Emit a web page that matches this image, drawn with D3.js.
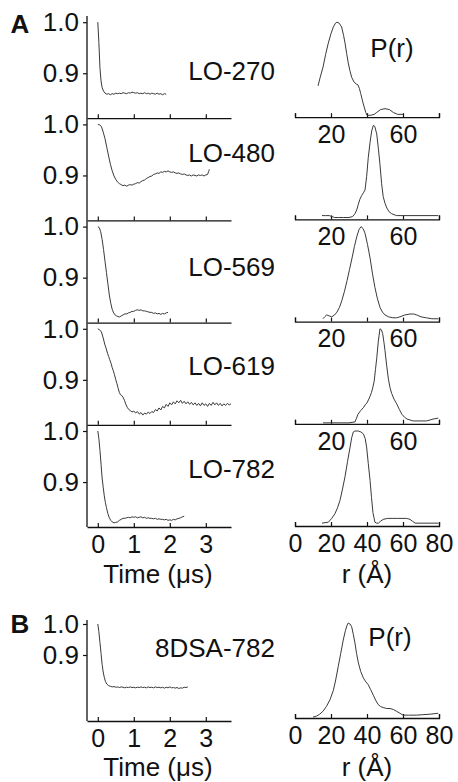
<!DOCTYPE html>
<html>
<head>
<meta charset="utf-8">
<script src="https://cdn.jsdelivr.net/npm/d3@7"></script>
<style>
body { margin: 0; background: #fff; }
svg text { font-family: "Liberation Sans", Arial, sans-serif; fill: #111; }
</style>
</head>
<body>
<svg id="chart" width="458" height="782"></svg>
<script>
// panel names
const panelNames = ['LO-270', 'LO-480', 'LO-569', 'LO-619', 'LO-782']
const panelNameB = '8DSA-782'

// tick values
const timeTicks = [0, 1, 2, 3]
const rTicks = [0, 20, 40, 60, 80]
const yTicks = [0.9, 1.0]

// time decays [time (us), signal]
const lo270 = [[0,1.0],[0.03,0.96],[0.06,0.91],[0.09,0.885],[0.12,0.872],[0.16,0.865],[0.2,0.861],[0.25,0.859],[0.3,0.860],[0.35,0.858],[0.4,0.860],[0.45,0.859],[0.5,0.861],[0.55,0.860],[0.6,0.861],[0.65,0.860],[0.7,0.862],[0.75,0.861],[0.8,0.860],[0.85,0.862],[0.9,0.861],[0.95,0.863],[1.0,0.862],[1.05,0.861],[1.1,0.862],[1.15,0.860],[1.2,0.861],[1.25,0.860],[1.3,0.862],[1.35,0.860],[1.4,0.861],[1.45,0.859],[1.5,0.861],[1.55,0.860],[1.6,0.859],[1.65,0.861],[1.7,0.859],[1.75,0.860],[1.8,0.858],[1.85,0.860],[1.9,0.859]]
const lo480 = [[0,1.0],[0.05,0.999],[0.1,0.996],[0.15,0.985],[0.2,0.972],[0.25,0.955],[0.3,0.938],[0.35,0.922],[0.4,0.909],[0.45,0.899],[0.5,0.892],[0.55,0.887],[0.6,0.884],[0.65,0.882],[0.7,0.880],[0.75,0.881],[0.8,0.879],[0.85,0.881],[0.9,0.882],[0.95,0.881],[1.0,0.883],[1.05,0.884],[1.1,0.886],[1.15,0.885],[1.2,0.888],[1.25,0.890],[1.3,0.891],[1.35,0.894],[1.4,0.896],[1.45,0.898],[1.5,0.899],[1.55,0.902],[1.6,0.903],[1.65,0.905],[1.7,0.904],[1.75,0.907],[1.8,0.906],[1.85,0.908],[1.9,0.907],[1.95,0.909],[2.0,0.907],[2.05,0.906],[2.1,0.907],[2.15,0.905],[2.2,0.904],[2.25,0.905],[2.3,0.903],[2.35,0.902],[2.4,0.903],[2.45,0.901],[2.5,0.900],[2.55,0.901],[2.6,0.899],[2.65,0.901],[2.7,0.900],[2.75,0.899],[2.8,0.901],[2.85,0.900],[2.9,0.901],[2.95,0.899],[3.0,0.901],[3.05,0.902],[3.08,0.908],[3.1,0.912]]
const lo569 = [[0,1.0],[0.04,0.998],[0.08,0.99],[0.12,0.975],[0.16,0.955],[0.2,0.932],[0.24,0.91],[0.28,0.888],[0.32,0.866],[0.36,0.850],[0.4,0.838],[0.44,0.831],[0.48,0.827],[0.52,0.825],[0.56,0.824],[0.6,0.823],[0.65,0.825],[0.7,0.827],[0.75,0.829],[0.8,0.829],[0.85,0.831],[0.9,0.832],[0.95,0.834],[1.0,0.834],[1.05,0.836],[1.1,0.837],[1.15,0.836],[1.2,0.837],[1.25,0.835],[1.3,0.835],[1.35,0.834],[1.4,0.833],[1.45,0.832],[1.5,0.832],[1.55,0.830],[1.6,0.831],[1.65,0.829],[1.7,0.830],[1.75,0.828],[1.8,0.830],[1.85,0.829],[1.9,0.831],[1.95,0.832]]
const lo619 = [[0,1.0],[0.05,0.998],[0.1,0.994],[0.15,0.982],[0.2,0.968],[0.23,0.962],[0.27,0.952],[0.3,0.946],[0.33,0.940],[0.37,0.932],[0.4,0.924],[0.43,0.918],[0.46,0.911],[0.5,0.900],[0.53,0.893],[0.56,0.885],[0.6,0.875],[0.63,0.871],[0.67,0.869],[0.7,0.866],[0.74,0.860],[0.78,0.852],[0.82,0.846],[0.86,0.842],[0.9,0.840],[0.95,0.837],[1.0,0.839],[1.05,0.835],[1.1,0.838],[1.15,0.833],[1.2,0.836],[1.25,0.831],[1.3,0.835],[1.35,0.833],[1.4,0.837],[1.45,0.834],[1.5,0.838],[1.55,0.836],[1.6,0.842],[1.65,0.839],[1.7,0.845],[1.75,0.841],[1.8,0.848],[1.85,0.845],[1.9,0.852],[1.95,0.848],[2.0,0.855],[2.05,0.851],[2.1,0.857],[2.15,0.853],[2.2,0.859],[2.25,0.855],[2.3,0.860],[2.35,0.854],[2.4,0.858],[2.45,0.853],[2.5,0.857],[2.55,0.852],[2.6,0.856],[2.65,0.851],[2.7,0.855],[2.75,0.850],[2.8,0.854],[2.85,0.849],[2.9,0.855],[2.95,0.850],[3.0,0.853],[3.05,0.848],[3.1,0.854],[3.15,0.850],[3.2,0.856],[3.25,0.851],[3.3,0.855],[3.35,0.850],[3.4,0.854],[3.45,0.849],[3.5,0.853],[3.55,0.850],[3.6,0.854],[3.65,0.851],[3.7,0.853]]
const lo782 = [[0,1.0],[0.03,0.985],[0.06,0.962],[0.09,0.935],[0.12,0.908],[0.15,0.890],[0.18,0.873],[0.21,0.860],[0.24,0.850],[0.28,0.838],[0.32,0.830],[0.36,0.825],[0.4,0.822],[0.45,0.820],[0.5,0.821],[0.55,0.822],[0.6,0.825],[0.65,0.827],[0.7,0.829],[0.75,0.829],[0.8,0.830],[0.85,0.831],[0.9,0.830],[0.95,0.832],[1.0,0.831],[1.05,0.832],[1.1,0.830],[1.15,0.831],[1.2,0.832],[1.25,0.830],[1.3,0.831],[1.35,0.829],[1.4,0.830],[1.45,0.829],[1.5,0.829],[1.55,0.828],[1.6,0.829],[1.65,0.827],[1.7,0.828],[1.75,0.827],[1.8,0.827],[1.85,0.826],[1.9,0.827],[1.95,0.825],[2.0,0.826],[2.05,0.825],[2.1,0.827],[2.15,0.826],[2.2,0.828],[2.25,0.829],[2.3,0.830],[2.35,0.832],[2.4,0.833]]
const dsa782 = [[0,1.0],[0.03,0.975],[0.06,0.94],[0.09,0.905],[0.12,0.87],[0.15,0.845],[0.18,0.828],[0.21,0.815],[0.25,0.806],[0.3,0.801],[0.35,0.799],[0.4,0.797],[0.45,0.798],[0.5,0.796],[0.55,0.797],[0.6,0.795],[0.65,0.797],[0.7,0.796],[0.75,0.794],[0.8,0.796],[0.85,0.795],[0.9,0.797],[0.95,0.795],[1.0,0.796],[1.05,0.794],[1.1,0.796],[1.15,0.795],[1.2,0.797],[1.25,0.795],[1.3,0.796],[1.35,0.794],[1.4,0.797],[1.45,0.795],[1.5,0.796],[1.55,0.794],[1.6,0.797],[1.65,0.795],[1.7,0.796],[1.75,0.794],[1.8,0.796],[1.85,0.793],[1.9,0.796],[1.95,0.794],[2.0,0.797],[2.05,0.794],[2.1,0.795],[2.15,0.793],[2.2,0.795],[2.25,0.792],[2.3,0.794],[2.35,0.793],[2.4,0.796],[2.45,0.795],[2.5,0.797]]

// distance distributions [r (A), P(r) normalised]
const pr270 = [[12.8,0.33],[14,0.42],[15.6,0.53],[17,0.66],[18.5,0.78],[20,0.88],[21.3,0.95],[22.5,0.99],[23.3,1.0],[24.5,0.99],[25.9,0.95],[27,0.86],[27.8,0.78],[28.7,0.67],[29.6,0.57],[30.5,0.49],[31.5,0.42],[32.8,0.37],[34,0.35],[35,0.34],[35.8,0.30],[36.5,0.25],[37.8,0.15],[39.3,0.05],[40,0.02],[42,0.02],[44,0.03],[45.4,0.05],[47.5,0.08],[50,0.09],[52.5,0.08],[54.6,0.05],[57,0.03],[60,0.03]]
const pr480 = [[15,0.04],[17,0.04],[19,0.04],[20.5,0.03],[22,0.02],[24,0.02],[27,0.02],[30,0.02],[32,0.03],[33.3,0.06],[34.3,0.1],[35.2,0.16],[36,0.21],[37,0.25],[38,0.28],[38.9,0.31],[39.8,0.45],[40.7,0.65],[41.7,0.81],[42.6,0.93],[43.5,0.99],[44.3,0.98],[45.4,0.9],[46.3,0.75],[47.2,0.58],[48.1,0.38],[49,0.24],[50,0.17],[51,0.12],[52.3,0.08],[53.7,0.06],[55,0.05],[56.5,0.04],[60,0.04],[65,0.04],[70,0.04],[75,0.04],[79.6,0.04]]
const pr569 = [[15.5,0.03],[16.5,0.05],[17.6,0.07],[19,0.06],[20.4,0.05],[22,0.07],[23.3,0.1],[24.7,0.15],[26,0.22],[27.5,0.32],[28.9,0.43],[30.3,0.55],[31.7,0.67],[33,0.79],[34.4,0.9],[35.6,0.97],[36.7,1.0],[37.8,0.98],[38.9,0.93],[40.3,0.81],[41.7,0.67],[43,0.51],[44.4,0.36],[45.8,0.24],[47.2,0.15],[48.6,0.1],[50,0.07],[52,0.05],[54.4,0.04],[56.4,0.04],[58.3,0.05],[61,0.07],[63.9,0.08],[66,0.08],[67.6,0.07],[70,0.05],[73,0.04],[76,0.03],[79.6,0.03]]
const pr619 = [[15.6,0.01],[20,0.01],[25,0.01],[30,0.01],[33.3,0.02],[34.2,0.06],[35,0.1],[36.5,0.14],[38,0.17],[39,0.2],[40,0.22],[41,0.26],[41.7,0.29],[42.5,0.33],[43.2,0.38],[44,0.45],[44.7,0.57],[45.4,0.69],[46.3,0.87],[47.2,1.0],[48,0.99],[48.7,0.95],[49.4,0.86],[50,0.77],[51,0.6],[51.9,0.47],[52.8,0.38],[53.7,0.32],[55,0.26],[56.5,0.21],[58,0.15],[59.4,0.1],[60.8,0.07],[62.2,0.05],[64,0.04],[65.6,0.03],[70,0.03],[73,0.03],[75,0.04],[76.7,0.05],[79.6,0.06]]
const pr782 = [[15,0.03],[18.5,0.04],[20.4,0.08],[22.2,0.13],[23.6,0.19],[25,0.27],[26.4,0.39],[27.8,0.52],[29.2,0.68],[30.6,0.83],[31.5,0.93],[32.4,0.99],[33.3,1.0],[35.2,1.0],[36.6,0.99],[38,0.97],[39,0.92],[39.8,0.83],[40.7,0.66],[41.7,0.48],[42.5,0.3],[43.3,0.14],[44.4,0.04],[45.4,0.03],[46.3,0.03],[47.5,0.05],[49,0.07],[51.5,0.08],[54.4,0.08],[57,0.08],[60,0.08],[62,0.08],[63.9,0.07],[65.3,0.05],[66.7,0.03],[70,0.03],[75,0.03],[79.6,0.03]]
const prDsa = [[10,0.01],[12,0.02],[13.7,0.04],[15.5,0.07],[17.4,0.12],[19.4,0.19],[21.3,0.29],[22.6,0.4],[24,0.54],[25.4,0.68],[26.8,0.82],[28,0.92],[29,0.98],[29.6,1.0],[30.5,0.99],[31.5,0.96],[32.4,0.88],[33.3,0.79],[34.2,0.68],[35.2,0.58],[36.5,0.49],[38,0.42],[39.4,0.38],[40.7,0.35],[42,0.3],[43.5,0.24],[45,0.18],[46.3,0.14],[47.6,0.12],[49,0.11],[51,0.1],[52.8,0.1],[54.6,0.09],[56.5,0.07],[58.3,0.05],[60,0.03],[63,0.03],[67.6,0.03],[71,0.035],[75,0.04],[79.6,0.05]]

const decaysA = [lo270, lo480, lo569, lo619, lo782]
const distsA = [pr270, pr480, pr569, pr619, pr782]

// layout
const font = '"Liberation Sans", Arial, sans-serif'
const fontSize = 26
const tickFontSize = 25
const panelTop = 16
const panelH = 102.2
const nameY = [71, 153, 267, 366, 469]

let svg = d3.select('#chart')

let xTime = d3.scaleLinear().domain([-0.3, 3.7]).range([87, 231])
let xR = d3.scaleLinear().domain([0, 80]).range([295, 439])

let styleAxis = (g) => {
    g.attr('font-size', tickFontSize).attr('font-family', font)
    g.selectAll('.domain').attr('stroke', '#111').attr('stroke-width', 1.3)
    g.selectAll('.tick line').attr('stroke', '#111').attr('stroke-width', 1.2)
    g.selectAll('.tick text').attr('fill', '#111')
}

let drawLine = (data, x, y) => {
    svg.append('path')
        .datum(data)
        .attr('fill', 'none')
        .attr('stroke', '#3a3a3a')
        .attr('stroke-width', 1)
        .attr('stroke-linejoin', 'round')
        .attr('d', d3.line().x(d => x(d[0])).y(d => y(d[1])))
}

// left side: decay with y axis 1.0 / 0.9 and time axis
let drawDecay = (data, yScale, bottom, showLabels) => {
    svg.append('g')
        .attr('transform', 'translate(' + xTime.range()[0] + ',0)')
        .call(d3.axisLeft(yScale).tickValues(yTicks).tickFormat(d3.format('.1f')).tickSize(4).tickPadding(4))
        .call(styleAxis)
        .call(g => g.attr('font-size', fontSize))
        .call(g => g.select('.domain').remove())

    svg.append('g')
        .attr('transform', 'translate(0,' + bottom + ')')
        .call(d3.axisBottom(xTime).tickValues(timeTicks).tickSizeInner(-4).tickSizeOuter(0).tickPadding(8)
            .tickFormat(showLabels ? d3.format('d') : () => ''))
        .call(styleAxis)

    drawLine(data, xTime, yScale)
}

// right side: P(r) with r axis
let drawDist = (data, bottom, last) => {
    let yP = d3.scaleLinear().domain([0, 1]).range([bottom, bottom - 95])
    svg.append('g')
        .attr('transform', 'translate(0,' + bottom + ')')
        .call(d3.axisBottom(xR).tickValues(rTicks).tickSizeInner(-4).tickSizeOuter(-4).tickPadding(8)
            .tickFormat(d => (last || d === 20 || d === 60) ? d : ''))
        .call(styleAxis)

    drawLine(data, xR, yP)
}

let addText = (txt, x, y, anchor, weight) => {
    svg.append('text')
        .attr('x', x)
        .attr('y', y)
        .attr('text-anchor', anchor)
        .attr('dominant-baseline', 'central')
        .attr('font-size', fontSize)
        .attr('font-weight', weight || 'normal')
        .text(txt)
}

// axis titles sit on their baseline
let addTitle = (txt, x, y) => {
    svg.append('text')
        .attr('x', x)
        .attr('y', y)
        .attr('text-anchor', 'middle')
        .attr('font-size', fontSize)
        .text(txt)
}

// panel A
let lastBottom = panelTop + panelH * panelNames.length
svg.append('line')
    .attr('x1', xTime.range()[0]).attr('x2', xTime.range()[0])
    .attr('y1', panelTop).attr('y2', lastBottom)
    .attr('stroke', '#111').attr('stroke-width', 1.3)

panelNames.forEach((name, i) => {
    let bottom = panelTop + panelH * (i + 1)
    let last = i === panelNames.length - 1
    let yScale = d3.scaleLinear().domain([0.812, 1.0]).range([bottom, bottom - 96])
    drawDecay(decaysA[i], yScale, bottom, last)
    drawDist(distsA[i], bottom - 1, last)
    addText(name, 275, nameY[i], 'end')
})

addText('A', 20, 24, 'middle', 'bold')
addText('P(r)', 392, 48, 'middle')
addTitle('Time (\u03bcs)', 158, 583)
addTitle('r (\u00c5)', 367, 583)

// panel B
let bottomB = 721
let yB = d3.scaleLinear().domain([0.687, 1.0]).range([bottomB, 624])
svg.append('line')
    .attr('x1', xTime.range()[0]).attr('x2', xTime.range()[0])
    .attr('y1', 620).attr('y2', bottomB)
    .attr('stroke', '#111').attr('stroke-width', 1.3)
drawDecay(dsa782, yB, bottomB, true)
drawDist(prDsa, 718, true)

addText('B', 20, 624, 'middle', 'bold')
addText(panelNameB, 275, 648, 'end')
addText('P(r)', 390, 637, 'middle')
addTitle('Time (\u03bcs)', 158, 776)
addTitle('r (\u00c5)', 367, 776)
</script>
</body>
</html>
